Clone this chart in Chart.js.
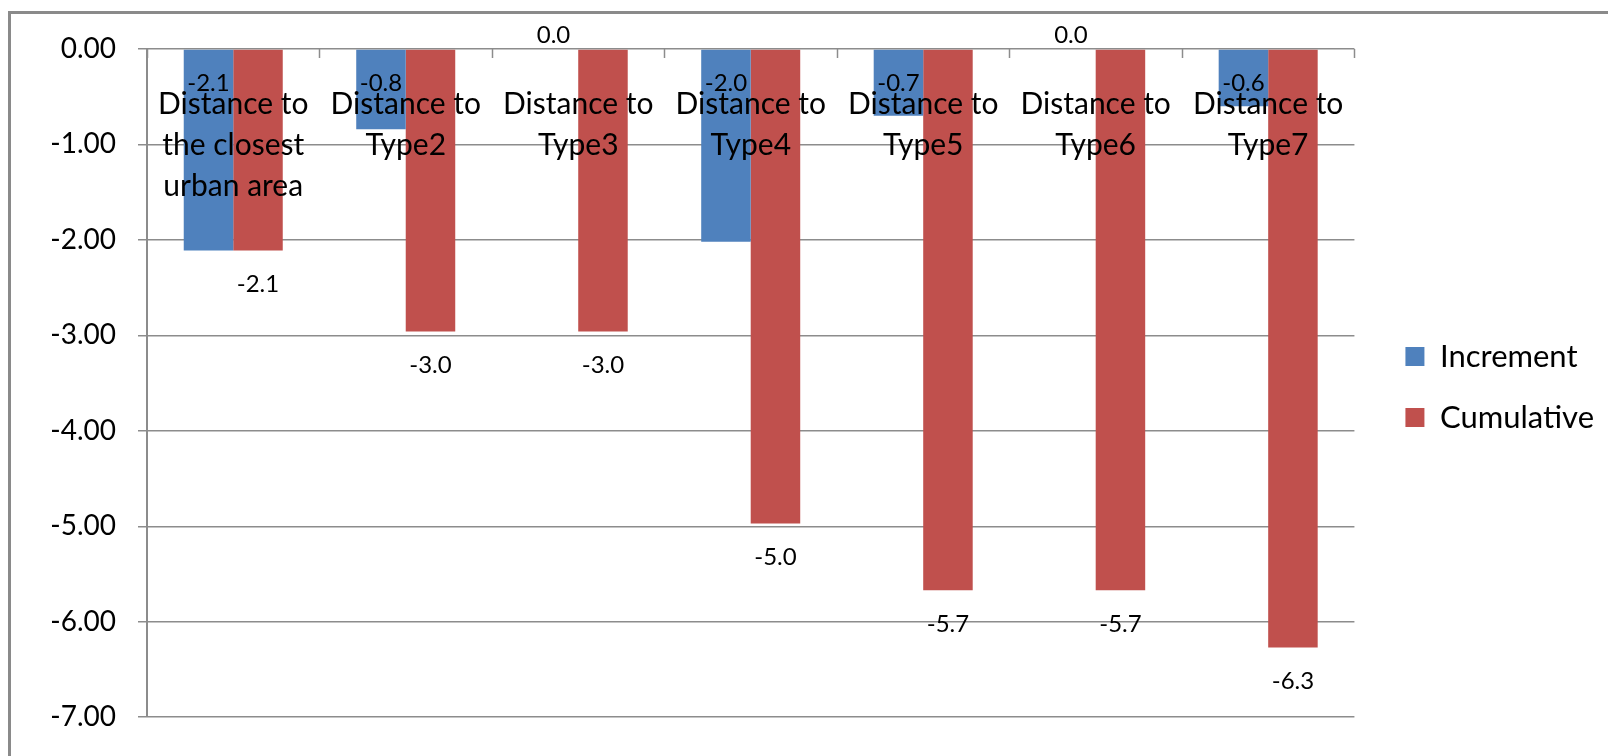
<!DOCTYPE html>
<html>
<head>
<meta charset="utf-8">
<script src="https://cdn.jsdelivr.net/npm/chart.js@4.4.1/dist/chart.umd.min.js"></script>
<style>
  html, body { margin: 0; padding: 0; background: #fff; }
  #wrap { width: 1608px; height: 756px; }
</style>
</head>
<body>
<div id="wrap"><canvas id="distanceChart"></canvas></div>
<script>
var categories = [
  ['Distance to', 'the closest', 'urban area'],
  ['Distance to', 'Type2'],
  ['Distance to', 'Type3'],
  ['Distance to', 'Type4'],
  ['Distance to', 'Type5'],
  ['Distance to', 'Type6'],
  ['Distance to', 'Type7']
];
var incrementValues = [-2.11, -0.84, 0, -2.02, -0.70, 0, -0.60];
var cumulativeValues = [-2.11, -2.96, -2.96, -4.97, -5.67, -5.67, -6.27];
var yMin = -7, yMax = 0, yStep = 1;

var gridColor = '#8c8c8c';
var fontName = 'Lato';

// outer frame of the chart object
var framePlugin = {
  id: 'frame',
  beforeDraw: function(chart) {
    var ctx = chart.ctx;
    ctx.save();
    ctx.strokeStyle = '#8a8a8a';
    ctx.lineWidth = 3;
    ctx.strokeRect(9.5, 12.5, chart.width + 40, chart.height + 40);
    ctx.restore();
  }
};

// category labels sit just under the zero line, plus the little ticks on it
var categoryLabels = {
  id: 'categoryLabels',
  afterDatasetsDraw: function(chart) {
    var ctx = chart.ctx;
    var x = chart.scales.x;
    var y0 = chart.scales.y.getPixelForValue(0);
    ctx.save();
    ctx.strokeStyle = gridColor;
    ctx.lineWidth = 1.5;
    for (var k = 0; k <= categories.length; k++) {
      var px = Math.round(x.getPixelForValue(k - 0.5)) + 0.5;
      ctx.beginPath();
      ctx.moveTo(px, y0);
      ctx.lineTo(px, y0 + 9);
      ctx.stroke();
    }
    ctx.font = '30px ' + fontName;
    ctx.fillStyle = '#000';
    ctx.textAlign = 'center';
    ctx.textBaseline = 'middle';
    categories.forEach(function(lines, i) {
      var cx = x.getPixelForValue(i);
      lines.forEach(function(t, j) {
        ctx.fillText(t, cx, y0 + 55 + j * 41);
      });
    });
    ctx.restore();
  }
};

var valueLabels = {
  id: 'valueLabels',
  afterDatasetsDraw: function(chart) {
    var ctx = chart.ctx;
    var y0 = chart.scales.y.getPixelForValue(0);
    ctx.save();
    ctx.font = '24px ' + fontName;
    ctx.fillStyle = '#000';
    ctx.textAlign = 'center';
    ctx.textBaseline = 'middle';
    chart.data.datasets.forEach(function(ds, di) {
      chart.getDatasetMeta(di).data.forEach(function(bar, i) {
        var v = ds.data[i];
        var ty;
        if (di === 0) ty = v === 0 ? y0 - 14 : y0 + 34;
        else ty = bar.y + 34;
        ctx.fillText(v.toFixed(1), bar.x, ty);
      });
    });
    ctx.restore();
  }
};

new Chart('distanceChart', {
  type: 'bar',
  data: {
    labels: categories,
    datasets: [{
      label: 'Increment',
      data: incrementValues,
      backgroundColor: '#4f81bd',
      borderWidth: 0,
      categoryPercentage: 0.574,
      barPercentage: 1.0
    }, {
      label: 'Cumulative',
      data: cumulativeValues,
      backgroundColor: '#c0504d',
      borderWidth: 0,
      categoryPercentage: 0.574,
      barPercentage: 1.0
    }]
  },
  options: {
    responsive: true,
    maintainAspectRatio: false,
    animation: false,
    layout: { padding: { top: 49, bottom: 31, left: 0, right: 4 } },
    plugins: {
      legend: {
        position: 'right',
        labels: {
          boxWidth: 19,
          boxHeight: 19,
          padding: 30,
          color: '#000',
          font: { family: fontName, size: 31 }
        }
      },
      tooltip: { enabled: false }
    },
    scales: {
      x: { display: false },
      y: {
        min: yMin,
        max: yMax,
        ticks: {
          stepSize: yStep,
          color: '#000',
          padding: 22,
          font: { family: fontName, size: 28 },
          callback: function(v) { return Number(v).toFixed(2); }
        },
        grid: { color: gridColor, lineWidth: 1.5, tickLength: 9 },
        border: { color: gridColor, width: 2 },
        afterFit: function(s) { s.width = 147; }
      },
      gap: {
        position: 'right',
        display: true,
        grid: { display: false },
        border: { display: false },
        ticks: { display: false },
        afterFit: function(s) { s.width = 21; }
      }
    }
  },
  plugins: [framePlugin, categoryLabels, valueLabels]
});
</script>
</body>
</html>
